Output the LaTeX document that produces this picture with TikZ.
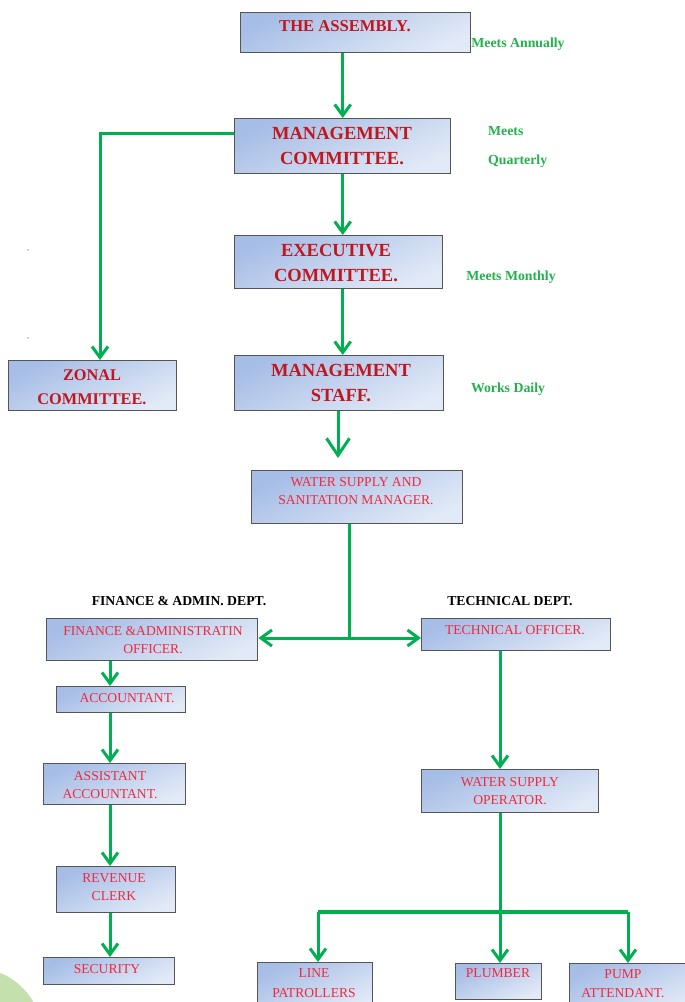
\documentclass[tikz,border=0pt]{standalone}
\usepackage{fontspec}
\setmainfont{Liberation Serif}
\usetikzlibrary{arrows.meta,calc}
\definecolor{lineg}{HTML}{00B050}
\definecolor{labg}{HTML}{22B24C}
\definecolor{boxA}{HTML}{A6BDE6}
\definecolor{boxB}{HTML}{E2EAF7}
\definecolor{boxline}{HTML}{555555}
\definecolor{dred}{HTML}{C0161E}
\definecolor{lred}{HTML}{EE2A3E}
\definecolor{blobg}{HTML}{C4E0AC}
\begin{document}
\begin{tikzpicture}[x=1pt,y=-1pt,
  box/.style={draw=boxline, line width=1.4pt, top color=boxA, bottom color=boxB, shading angle=25, inner sep=0pt, anchor=north west},
  tbig/.style={text=dred, font=\bfseries\fontsize{18.5}{25}\selectfont, align=center, inner sep=0pt},
  tsmall/.style={text=lred, font=\fontsize{13.6}{18}\selectfont, align=center, inner sep=0pt},
  tlab/.style={text=labg, font=\bfseries\fontsize{13.8}{15}\selectfont, inner sep=0pt},
  thead/.style={text=black, font=\bfseries\fontsize{13.7}{15}\selectfont, inner sep=0pt},
  arr/.style={draw=lineg, line width=3pt, -{Straight Barb[length=11pt,width=16pt]}},
  ln/.style={draw=lineg, line width=3pt}]
\useasboundingbox (0,0) rectangle (685,1002);
% background decoration
\fill[blobg] (-25,1035) circle (67);
\fill[gray!70] (28,250) circle (0.9);
\fill[gray!70] (28,338) circle (0.9);
% boxes
\node[box, minimum width=230pt, minimum height=40pt] (asm) at (240,12) {};
\node[box, minimum width=216pt, minimum height=55pt] (mc) at (234,118) {};
\node[box, minimum width=208pt, minimum height=53pt] (ec) at (234,235) {};
\node[box, minimum width=209pt, minimum height=55pt] (ms) at (234,355) {};
\node[box, minimum width=168pt, minimum height=50pt] (zc) at (8,360) {};
\node[box, minimum width=211pt, minimum height=53pt] (wssm) at (251,470) {};
\node[box, minimum width=211pt, minimum height=42pt] (fao) at (46,618) {};
\node[box, minimum width=189pt, minimum height=32pt] (to) at (421,618) {};
\node[box, minimum width=129pt, minimum height=26pt] (acc) at (56,686) {};
\node[box, minimum width=142pt, minimum height=41pt] (aa) at (43,763) {};
\node[box, minimum width=119pt, minimum height=46pt] (rc) at (56,866) {};
\node[box, minimum width=131pt, minimum height=27pt] (sec) at (43,957) {};
\node[box, minimum width=177pt, minimum height=43pt] (wso) at (421,769) {};
\node[box, minimum width=115pt, minimum height=48pt] (lp) at (257,962) {};
\node[box, minimum width=86pt, minimum height=36pt] (pl) at (455,963) {};
\node[box, minimum width=125pt, minimum height=48pt] (pa) at (569,963) {};
% box texts
\node[tbig, font=\bfseries\fontsize{16.6}{20}\selectfont] (asmt) at (345,26.5) {THE ASSEMBLY.};
\node[tbig] (mct) at (342,146) {MANAGEMENT\\COMMITTEE.};
\node[tbig] (ect) at (336,263.5) {EXECUTIVE\\COMMITTEE.};
\node[tbig] (mst) at (341,383) {MANAGEMENT\\STAFF.};
\node[tbig, font=\bfseries\fontsize{16.3}{24}\selectfont] (zct) at (92,387.5) {ZONAL\\COMMITTEE.};
\node[tsmall] (wssmt) at (356,491.5) {WATER SUPPLY AND\\SANITATION MANAGER.};
\node[tsmall] (faot) at (153,640.5) {FINANCE \&ADMINISTRATIN\\OFFICER.};
\node[tsmall] (tot) at (515,630.5) {TECHNICAL OFFICER.};
\node[tsmall] (acct) at (127,698.5) {ACCOUNTANT.};
\node[tsmall] (aat) at (110,785) {ASSISTANT\\ACCOUNTANT.};
\node[tsmall] (rct) at (114,887.5) {REVENUE\\CLERK};
\node[tsmall] (sect) at (107,969.5) {SECURITY};
\node[tsmall] (wsot) at (510,791.5) {WATER SUPPLY\\OPERATOR.};
\node[tsmall, font=\fontsize{13.6}{20}\selectfont] (lpt) at (314,983.5) {LINE\\PATROLLERS};
\node[tsmall] (plt) at (498,973.5) {PLUMBER};
\node[tsmall, font=\fontsize{13.6}{19}\selectfont] (pat) at (623,984) {PUMP\\ATTENDANT.};
% side labels
\node[tlab] (l1) at (518,44) {Meets Annually};
\node[tlab, anchor=west] (l2) at (488,131) {Meets};
\node[tlab, anchor=west] (l3) at (488,161) {Quarterly};
\node[tlab] (l4) at (511,277) {Meets Monthly};
\node[tlab] (l5) at (508,389) {Works Daily};
\node[thead] (h1) at (179,601) {FINANCE \& ADMIN. DEPT.};
\node[thead] (h2) at (510,601) {TECHNICAL DEPT.};
% connectors
\draw[arr] (asm.south -| mc.north) -- (mc.north);
\draw[arr] (mc.south) -- (mc.south |- ec.north);
\draw[arr] (ec.south -| mc.south) -- (ms.north -| mc.south);
\coordinate (zk) at (100,133);
\draw[arr] (mc.west |- zk) -- (zk) -- (zc.north -| zk);
\coordinate (tip) at (338,458);
\draw[draw=lineg, line width=3pt, -{Straight Barb[length=17pt,width=23pt]}] (ms.south -| tip) -- (tip);
\coordinate (br) at (349,638);
\draw[ln] (wssm.south -| br) -- (br);
\draw[arr] (br) -- (fao.east |- br);
\draw[arr] (br) -- (to.west |- br);
\coordinate (fx) at (110,0);
\draw[arr] (fao.south -| fx) -- (acc.north -| fx);
\draw[arr] (acc.south -| fx) -- (aa.north -| fx);
\draw[arr] (aa.south -| fx) -- (rc.north -| fx);
\draw[arr] (rc.south -| fx) -- (sec.north -| fx);
\coordinate (tx) at (500,0);
\draw[arr] (to.south -| tx) -- (wso.north -| tx);
\coordinate (bj) at (500,912);
\coordinate (b1) at (318,912);
\coordinate (b3) at (628,912);
\draw[ln] (wso.south -| bj) -- (bj);
\draw[draw=lineg, line width=4pt] (b1) -- (b3);
\draw[arr] (b1) -- (lp.north -| b1);
\draw[arr] (bj) -- (pl.north -| bj);
\draw[arr] (b3) -- (pa.north -| b3);
\end{tikzpicture}
\end{document}
